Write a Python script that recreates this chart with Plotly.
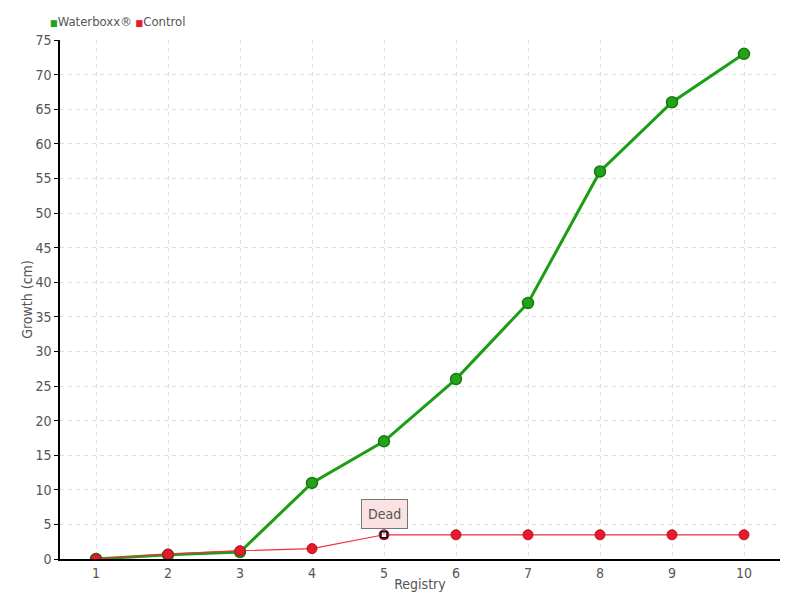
import plotly.graph_objects as go

registry = [1, 2, 3, 4, 5, 6, 7, 8, 9, 10]
waterboxx = [0, 0.6, 1.0, 11, 17, 26, 37, 56, 66, 73]
control = [0, 0.7, 1.2, 1.5, 3.5, 3.5, 3.5, 3.5, 3.5, 3.5]
y_ticks = list(range(0, 80, 5))
series_names = ["Waterboxx®", "Control"]

FONT = "DejaVu Sans Condensed, DejaVu Sans"
TXT = "#555555"
GREEN = "#22a31a"
RED = "#e8192c"

fig = go.Figure()
fig.add_trace(go.Scatter(
    x=registry, y=waterboxx, name=series_names[0], mode="lines+markers", showlegend=False,
    line=dict(color="#1a9e12", width=3),
    marker=dict(color=GREEN, size=11, line=dict(color="#177a10", width=1.5)),
))
fig.add_trace(go.Scatter(
    x=registry, y=control, name=series_names[1], mode="lines+markers", showlegend=False,
    line=dict(color="#f0313f", width=1.2),
    marker=dict(color=RED, size=10, line=dict(color="#b5101e", width=1)),
))
# "Dead" point highlight
fig.add_trace(go.Scatter(
    x=[registry[4]], y=[control[4]], mode="markers", showlegend=False,
    marker=dict(symbol="square", color="white", size=6, line=dict(color="black", width=1.5)),
    hoverinfo="skip",
))

fig.add_annotation(
    x=registry[4], y=control[4], text="Dead", showarrow=True,
    arrowhead=0, arrowwidth=1, arrowcolor="#777777", ax=0, ay=-21,
    bgcolor="#fbe2e2", bordercolor="#777777", borderwidth=1, borderpad=6,
    font=dict(family=FONT, size=14, color=TXT),
)
# legend drawn as text
legend_text = (f"<span style='color:{GREEN};font-size:9px'>■</span>{series_names[0]} "
               f"<span style='color:{RED};font-size:9px'>■</span>{series_names[1]}")
fig.add_annotation(
    x=-0.017, y=1.035, xref="paper", yref="paper", text=legend_text,
    showarrow=False, xanchor="left", yanchor="middle",
    font=dict(family=FONT, size=13, color=TXT),
)

fig.update_layout(
    width=800, height=600,
    margin=dict(l=52, r=28, t=32, b=49, autoexpand=False),
    plot_bgcolor="white", paper_bgcolor="white",
    font=dict(family=FONT, size=14, color=TXT),
    showlegend=False,
)
fig.update_xaxes(
    range=[0.5, 10.5], tickvals=registry, ticktext=[str(r) for r in registry],
    showline=True, linecolor="black", linewidth=1.5,
    showgrid=True, gridcolor="#e0e0e0", griddash="4px,4px", gridwidth=1,
    ticks="", tickfont=dict(family=FONT, size=14, color=TXT), zeroline=False,
    title=dict(text="Registry", font=dict(family=FONT, size=14, color=TXT), standoff=0),
)
fig.update_yaxes(
    range=[0, 75], tickvals=y_ticks,
    showline=True, linecolor="black", linewidth=1.5,
    showgrid=True, gridcolor="#e0e0e0", griddash="4px,4px", gridwidth=1,
    ticks="outside", ticklen=4, tickcolor="black",
    tickfont=dict(family=FONT, size=14, color=TXT), zeroline=False,
    title=dict(text="Growth (cm)", font=dict(family=FONT, size=14, color=TXT), standoff=0),
)

fig.write_html("out.html")
